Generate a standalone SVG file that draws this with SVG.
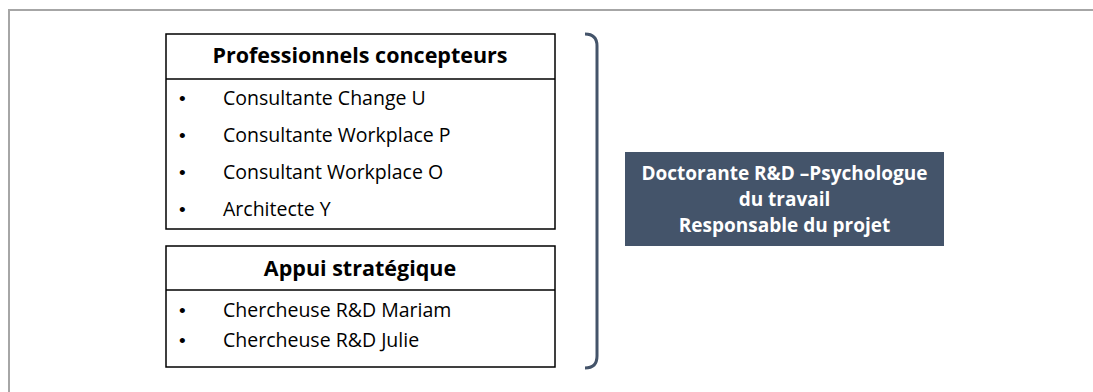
<svg xmlns="http://www.w3.org/2000/svg" width="1093" height="392" viewBox="0 0 1093 392">
<style>
.box{fill:#fff;stroke:#000;stroke-width:1.5}
.hdr{font-family:"Open Sans",sans-serif;font-weight:bold;font-size:21.5px;fill:#000;text-anchor:middle}
.item{font-family:"Open Sans",sans-serif;font-size:19.5px;fill:#000}
.bul{font-family:"Liberation Sans",sans-serif;font-size:19px;fill:#000}
.dark{font-family:"Open Sans",sans-serif;font-weight:bold;font-size:19px;fill:#fff;text-anchor:middle}
</style>
<rect x="0" y="0" width="1093" height="392" fill="#fff"/>
<path d="M9,400 V10 H1100" fill="none" stroke="#a6a6a6" stroke-width="2"/>
<g id="professionnels">
<rect class="box" x="166" y="34" width="389" height="195"/>
<line x1="166" y1="79" x2="555" y2="79" stroke="#000" stroke-width="1.5"/>
<text class="hdr" x="360" y="63">Professionnels concepteurs</text>
<text class="bul" x="179" y="105">•</text><text class="item" x="223" y="105">Consultante Change U</text>
<text class="bul" x="179" y="142">•</text><text class="item" x="223" y="142">Consultante Workplace P</text>
<text class="bul" x="179" y="179">•</text><text class="item" x="223" y="179">Consultant Workplace O</text>
<text class="bul" x="179" y="216">•</text><text class="item" x="223" y="216">Architecte Y</text>
</g>
<g id="appui">
<rect class="box" x="166" y="246" width="389" height="121"/>
<line x1="166" y1="290" x2="555" y2="290" stroke="#000" stroke-width="1.5"/>
<text class="hdr" x="360" y="276">Appui stratégique</text>
<text class="bul" x="179" y="317">•</text><text class="item" x="223" y="317">Chercheuse R&amp;D Mariam</text>
<text class="bul" x="179" y="347">•</text><text class="item" x="223" y="347">Chercheuse R&amp;D Julie</text>
</g>
<g id="connectors">
<path d="M585,34 Q597,34 597,46 V356 Q597,368 585,368" fill="none" stroke="#44546a" stroke-width="3"/>
</g>
<g id="doctorante">
<rect x="625" y="152" width="319" height="94" fill="#44546a"/>
<text class="dark" x="784.5" y="180">Doctorante R&amp;D –Psychologue</text>
<text class="dark" x="784.5" y="206">du travail</text>
<text class="dark" x="784.5" y="232">Responsable du projet</text>
</g>
</svg>
